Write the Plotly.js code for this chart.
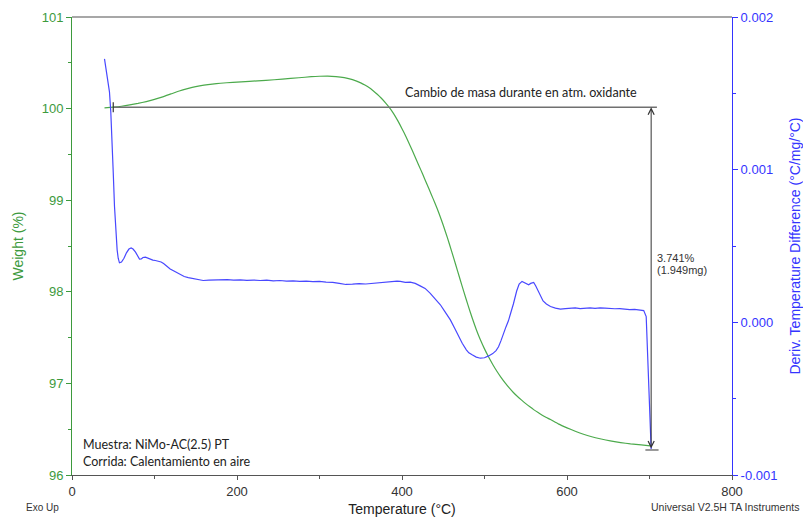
<!DOCTYPE html>
<html>
<head>
<meta charset="utf-8">
<script src="https://cdn.plot.ly/plotly-3.0.1.min.js"></script>
<style>
  html, body { margin: 0; padding: 0; background: #ffffff; }
  #chart { width: 803px; height: 518px; }
</style>
</head>
<body>
<div id="chart"></div>
<script>
// TGA run of NiMo-AC(2.5) PT heated in air: weight loss and derivative temperature difference

// Weight curve (%), temperature in °C
const weightTemp = [39.4, 50, 60, 70, 80, 90, 100, 110, 120, 130, 140, 150, 160, 170, 180, 195, 215, 235, 255, 275,
  290, 300, 310, 320, 330, 340, 350, 355, 360, 365, 370, 375, 380, 385, 390, 395, 400, 405, 410, 415,
  420, 425, 430, 435, 440, 445, 450, 455, 460, 465, 470, 475, 480, 485, 490, 495, 500, 505, 510, 515,
  520, 525, 530, 535, 540, 545, 550, 555, 560, 565, 570, 575, 580, 590, 600, 610, 620, 630, 640, 652.5,
  665, 677, 690, 701];
const weightPct = [100.008, 100.016, 100.026, 100.04, 100.057, 100.077, 100.1, 100.128, 100.16, 100.192, 100.218, 100.24, 100.256, 100.268, 100.277, 100.287, 100.298, 100.308, 100.322, 100.337,
  100.348, 100.353, 100.355, 100.35, 100.338, 100.316, 100.281, 100.257, 100.229, 100.195, 100.157, 100.113, 100.063, 100.008, 99.943, 99.866, 99.781, 99.69, 99.593, 99.491,
  99.388, 99.285, 99.18, 99.074, 98.966, 98.852, 98.727, 98.591, 98.447, 98.298, 98.148, 97.999, 97.854, 97.716, 97.589, 97.476, 97.377, 97.288, 97.207, 97.133,
  97.066, 97.006, 96.951, 96.901, 96.857, 96.817, 96.779, 96.744, 96.711, 96.681, 96.653, 96.628, 96.605, 96.555, 96.515, 96.478, 96.445, 96.418, 96.396, 96.372,
  96.354, 96.34, 96.328, 96.318];

// Derivative of temperature difference (°C/mg/°C)
const derivTemp = [39.4, 42, 45.4, 47, 48.7, 50, 51.5, 53, 54.7, 56, 57.5, 60, 63, 66, 69, 71.7, 74, 77, 80, 81.8,
  84, 86, 89, 92, 95, 98, 101, 104, 108, 111, 115, 119, 123, 127, 131.5, 136, 141, 147, 153, 159,
  166, 174, 181, 188, 196, 204, 212, 220, 228, 236, 244, 252, 260, 268, 276, 284, 292, 300, 308, 316,
  324, 332, 340, 348, 356, 364, 372, 380, 388, 394, 398, 404, 410, 416, 422, 428, 434, 440, 446.5, 452,
  458.6, 464, 469, 473, 478, 481, 485, 490, 495, 500, 505, 510, 514, 517, 520, 523, 526, 529, 532, 535,
  539, 542, 545.5, 549, 551, 553.5, 556, 559.6, 562, 565, 567.7, 571, 575, 580, 586, 592, 598, 604, 610, 616,
  622, 628, 634, 640, 646, 652, 658, 664, 670, 676, 682, 688, 693, 696, 698, 700, 702];
const derivValue = [0.001726, 0.00163, 0.00151, 0.00138, 0.0012, 0.00098, 0.00076, 0.00060, 0.000475, 0.00042, 0.00039, 0.000395, 0.00042, 0.000455, 0.00048, 0.000487, 0.00048, 0.00046, 0.00043, 0.000414,
  0.000415, 0.000425, 0.000427, 0.00042, 0.00041, 0.000408, 0.000405, 0.000402, 0.000395, 0.000385, 0.000366, 0.00035, 0.000338, 0.000325, 0.000311, 0.0003, 0.000293, 0.000285, 0.000279, 0.000274,
  0.000276, 0.000279, 0.000277, 0.00028, 0.000276, 0.000278, 0.000275, 0.000277, 0.000274, 0.000276, 0.000272, 0.000274, 0.00027, 0.000272, 0.000268, 0.00027, 0.000266, 0.000268, 0.000264, 0.000262,
  0.000255, 0.000248, 0.00025, 0.000254, 0.000251, 0.000256, 0.00026, 0.000263, 0.000268, 0.00027, 0.000268, 0.000262, 0.000263, 0.000255, 0.000239, 0.000222, 0.000191, 0.000155, 0.000115, 0.00007,
  0.000016, -0.00004, -0.0001, -0.000137, -0.00018, -0.0002, -0.000213, -0.000228, -0.000235, -0.000232, -0.00022, -0.000205, -0.000185, -0.00016, -0.00012, -0.00007, -0.00003, 0.00001, 0.00006, 0.00012,
  0.000205, 0.00025, 0.000268, 0.000258, 0.000248, 0.000246, 0.000255, 0.000261, 0.00024, 0.000205, 0.000169, 0.00014, 0.00012, 0.000104, 0.000093, 0.000087, 0.00009, 0.000093, 0.000095, 0.00009,
  0.000093, 0.000095, 0.000092, 0.000095, 0.000093, 0.00009, 0.000089, 0.00009, 0.000085, 0.000083, 0.000085, 0.00008, 0.000077, 0.000038, -0.00025, -0.00055, -0.00083];

// Axis tick values and labels
const xTicks = [0, 200, 400, 600, 800];
const weightTicks = [96, 97, 98, 99, 100, 101];
const derivTicks = [-0.001, 0, 0.001, 0.002];
const derivTickText = ['-0.001', '0.000', '0.001', '0.002'];

// Mass-change step measured in oxidising atmosphere
const stepStartTemp = 50;
const stepEndTemp = 702;
const stepLineEndTemp = 709;
const stepStartWeight = 100.014;
const stepLossPct = 3.741;
const stepLossMg = 1.949;
const stepEndWeight = stepStartWeight - stepLossPct;

const GREEN_TEXT = '#3d9a3d';
const GREEN_LINE = '#4caa4c';
const BLUE_TEXT = '#3434ff';
const BLUE_LINE = '#4848ff';
const ARIAL = 'Liberation Sans, Arial, sans-serif';
const NOTE_FONT = 'Lato, Noto Sans, sans-serif';

const traces = [
  {
    x: weightTemp, y: weightPct, type: 'scatter', mode: 'lines',
    line: { color: GREEN_LINE, width: 1.2, shape: 'spline', smoothing: 0.5 },
    xaxis: 'x', yaxis: 'y', hoverinfo: 'skip'
  },
  {
    x: derivTemp, y: derivValue, type: 'scatter', mode: 'lines',
    line: { color: BLUE_LINE, width: 1.2 },
    xaxis: 'x', yaxis: 'y2', hoverinfo: 'skip'
  }
];

const layout = {
  width: 803, height: 518,
  margin: { l: 72, r: 71, t: 17, b: 43, pad: 0 },
  paper_bgcolor: '#ffffff', plot_bgcolor: '#ffffff',
  showlegend: false,
  font: { family: ARIAL, size: 13, color: '#333333' },
  xaxis: {
    range: [0, 800], tickvals: xTicks, ticktext: xTicks.map(String),
    showgrid: false, zeroline: false,
    showline: true, linecolor: '#555555', linewidth: 1,
    ticks: 'outside', ticklen: 4, tickcolor: '#555555',
    minor: { dtick: 100, tick0: 0, ticks: 'outside', ticklen: 3, tickcolor: '#555555', showgrid: false },
    tickfont: { family: ARIAL, size: 13, color: '#333333' },
    title: { text: 'Temperature (°C)', font: { family: ARIAL, size: 14, color: '#222222' }, standoff: 6 },
    automargin: false
  },
  yaxis: {
    range: [96, 101], tickvals: weightTicks, ticktext: weightTicks.map(String),
    showgrid: false, zeroline: false,
    showline: true, linecolor: GREEN_TEXT, linewidth: 1,
    ticks: 'outside', ticklen: 5, tickcolor: GREEN_TEXT,
    minor: { dtick: 0.5, tick0: 96, ticks: 'outside', ticklen: 3, tickcolor: GREEN_TEXT, showgrid: false },
    tickfont: { family: ARIAL, size: 13, color: GREEN_TEXT },
    title: { text: 'Weight (%)', font: { family: ARIAL, size: 14, color: GREEN_TEXT }, standoff: 14 },
    automargin: false
  },
  yaxis2: {
    range: [-0.001, 0.002], overlaying: 'y', side: 'right', anchor: 'x',
    tickvals: derivTicks, ticktext: derivTickText,
    showgrid: false, zeroline: false,
    showline: true, linecolor: BLUE_TEXT, linewidth: 1,
    ticks: 'outside', ticklen: 5, tickcolor: BLUE_TEXT,
    minor: { dtick: 0.0005, tick0: -0.001, ticks: 'outside', ticklen: 3, tickcolor: BLUE_TEXT, showgrid: false },
    tickfont: { family: ARIAL, size: 13, color: BLUE_TEXT },
    title: { text: 'Deriv. Temperature Difference (°C/mg/°C)', font: { family: ARIAL, size: 14, color: BLUE_TEXT }, standoff: 14 },
    automargin: false
  },
  shapes: [
    // top frame
    { type: 'line', xref: 'paper', yref: 'paper', x0: 0, x1: 1, y0: 1, y1: 1, line: { color: '#8a8a8a', width: 1.5 } },
    // baseline of the mass-change step
    { type: 'line', xref: 'x', yref: 'y', x0: stepStartTemp, x1: stepLineEndTemp, y0: stepStartWeight, y1: stepStartWeight,
      line: { color: '#707070', width: 1.5 } },
    { type: 'line', xref: 'x', yref: 'y', x0: stepStartTemp, x1: stepStartTemp, y0: stepStartWeight - 0.055, y1: stepStartWeight + 0.055,
      line: { color: '#333333', width: 1.2 } },
    { type: 'line', xref: 'x', yref: 'y', x0: stepEndTemp - 7, x1: stepEndTemp + 9, y0: stepEndWeight, y1: stepEndWeight,
      line: { color: '#555555', width: 1.2 } }
  ],
  annotations: [
    // double-headed arrow spanning the mass loss
    { xref: 'x', yref: 'y', axref: 'x', ayref: 'y',
      x: stepEndTemp, y: stepStartWeight, ax: stepEndTemp, ay: stepEndWeight,
      text: '', showarrow: true, arrowside: 'end+start', arrowhead: 5, startarrowhead: 5,
      arrowsize: 1.2, startarrowsize: 1.2, arrowwidth: 1, arrowcolor: '#333333', standoff: 0, startstandoff: 0 },
    { xref: 'x', yref: 'y', x: 544.5, y: stepStartWeight, yshift: 15, xanchor: 'center', yanchor: 'middle',
      text: 'Cambio de masa durante en atm. oxidante', showarrow: false,
      font: { family: NOTE_FONT, size: 12.6, color: '#222222' } },
    { xref: 'x', yref: 'y', x: stepEndTemp + 5, y: 98.306, yshift: 6, xanchor: 'left', yanchor: 'middle',
      text: stepLossPct.toFixed(3) + '%', showarrow: false,
      font: { family: ARIAL, size: 11, color: '#333333' } },
    { xref: 'x', yref: 'y', x: stepEndTemp + 5, y: 98.306, yshift: -6, xanchor: 'left', yanchor: 'middle',
      text: '(' + stepLossMg.toFixed(3) + 'mg)', showarrow: false,
      font: { family: ARIAL, size: 11, color: '#333333' } },
    // sample notes
    { xref: 'paper', yref: 'paper', x: 0.0129, y: 0.0656, xanchor: 'left', yanchor: 'middle',
      text: 'Muestra: NiMo-AC(2.5) PT', showarrow: false,
      font: { family: NOTE_FONT, size: 12.5, color: '#222222' } },
    { xref: 'paper', yref: 'paper', x: 0.0129, y: 0.0284, xanchor: 'left', yanchor: 'middle',
      text: 'Corrida: Calentamiento en aire', showarrow: false,
      font: { family: NOTE_FONT, size: 12.5, color: '#222222' } },
    // footer texts
    { xref: 'paper', yref: 'paper', x: -0.0734, y: -0.0699, xanchor: 'left', yanchor: 'middle',
      text: 'Exo Up', showarrow: false, font: { family: ARIAL, size: 10, color: '#333333' } },
    { xref: 'paper', yref: 'paper', x: 1.1046, y: -0.0699, xanchor: 'right', yanchor: 'middle',
      text: 'Universal V2.5H TA Instruments', showarrow: false, font: { family: ARIAL, size: 10.5, color: '#333333' } }
  ]
};

Plotly.newPlot('chart', traces, layout, { displayModeBar: false, staticPlot: true });
</script>
</body>
</html>
